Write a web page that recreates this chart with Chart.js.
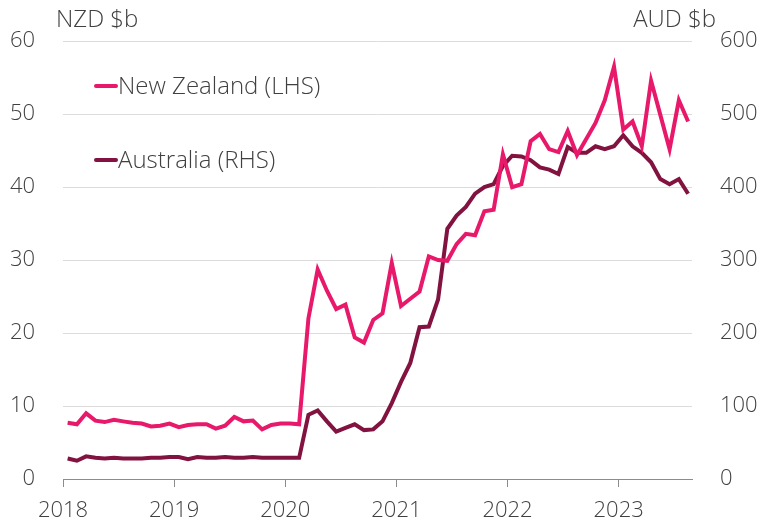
<!DOCTYPE html>
<html>
<head>
<meta charset="utf-8">
<script src="https://cdn.jsdelivr.net/npm/chart.js@4.4.0/dist/chart.umd.min.js"></script>
<style>
  html, body { margin: 0; padding: 0; background: #fff; }
  #wrap { width: 762px; height: 525px; }
</style>
</head>
<body>
<div id="wrap"><canvas id="myChart" width="762" height="525"></canvas></div>
<script>
// monthly, Jan 2018 - Aug 2023
let meses = [];
for (let a = 2018; a <= 2023; a++) {
  for (let m = 1; m <= 12; m++) {
    if (a == 2023 && m > 8) break;
    meses.push(a + "-" + (m < 10 ? "0" + m : m));
  }
}

// NZD $b (LHS)
let nzValues = [
  7.7, 7.5, 9.0, 8.0, 7.8, 8.1, 7.9, 7.7, 7.6, 7.2, 7.3, 7.6,
  7.1, 7.4, 7.5, 7.5, 6.9, 7.3, 8.5, 7.9, 8.0, 6.8, 7.4, 7.6,
  7.6, 7.5, 22.0, 28.7, 25.8, 23.3, 23.9, 19.4, 18.7, 21.8, 22.7, 29.6,
  23.7, 24.7, 25.7, 30.5, 30.0, 29.9, 32.2, 33.6, 33.4, 36.7, 36.9, 44.5,
  40.0, 40.4, 46.3, 47.3, 45.2, 44.8, 47.7, 44.4, 46.6, 48.8, 51.9, 56.5,
  47.9, 49.0, 45.6, 54.6, 49.9, 45.2, 51.9, 49.0
];

// AUD $b (RHS)
let auValues = [
  28, 25, 31, 29, 28, 29, 28, 28, 28, 29, 29, 30,
  30, 27, 30, 29, 29, 30, 29, 29, 30, 29, 29, 29,
  29, 29, 88, 94, 79, 65, 70, 75, 67, 68, 79, 104,
  133, 159, 208, 209, 246, 343, 361, 373, 391, 400, 404, 429,
  443, 442, 437, 427, 424, 418, 455, 447, 447, 456, 452, 456,
  471, 456, 447, 434, 411, 404, 411, 391
];

let leftTicks = [0, 10, 20, 30, 40, 50, 60];
let rightTicks = [0, 100, 200, 300, 400, 500, 600];
let anos = [2018, 2019, 2020, 2021, 2022, 2023];

let corNZ = "#e8186a";
let corAU = "#82123f";
let corTexto = "#404040";
let fonte = "'Open Sans', 'DejaVu Sans', sans-serif";

// month label -> position on the year axis (middle of month)
function posMes(s) {
  let a = parseInt(s.slice(0, 4));
  let m = parseInt(s.slice(5, 7));
  return a + (m - 0.5) / 12;
}

let nzData = meses.map((s, i) => ({ x: posMes(s), y: nzValues[i] }));
let auData = meses.map((s, i) => ({ x: posMes(s), y: auValues[i] }));

// legend and axis titles drawn by hand
const extras = {
  id: "extras",
  afterDraw(chart) {
    let ctx = chart.ctx;
    ctx.save();
    ctx.font = "300 24px " + fonte;
    ctx.fillStyle = corTexto;
    ctx.textBaseline = "middle";
    ctx.textAlign = "left";
    ctx.fillText("NZD $b", 56, 20);
    ctx.textAlign = "right";
    ctx.fillText("AUD $b", 716, 20);

    let itens = [[86, 0], [160, 1]];
    itens.forEach(([y, d]) => {
      let ds = chart.data.datasets[d];
      ctx.strokeStyle = ds.borderColor;
      ctx.lineWidth = 4;
      ctx.lineCap = "round";
      ctx.beginPath();
      ctx.moveTo(96, y);
      ctx.lineTo(116, y);
      ctx.stroke();
      ctx.textAlign = "left";
      ctx.fillText(ds.label, 118, y + 1);
    });
    ctx.restore();
  }
};

let chart = new Chart("myChart", {
  type: "line",
  data: {
    datasets: [{
      label: "New Zealand (LHS)",
      data: nzData,
      borderColor: corNZ,
      borderWidth: 4,
      pointRadius: 0,
      tension: 0,
      yAxisID: "y"
    },
    {
      label: "Australia (RHS)",
      data: auData,
      borderColor: corAU,
      borderWidth: 4,
      pointRadius: 0,
      tension: 0,
      yAxisID: "y2"
    }]
  },
  options: {
    responsive: false,
    animation: false,
    layout: { padding: { top: 38, left: 0, right: 0, bottom: 0 } },
    plugins: {
      legend: { display: false },
      tooltip: { enabled: false }
    },
    scales: {
      x: {
        type: "linear",
        min: 2018,
        max: 2023.66,
        afterBuildTicks: s => { s.ticks = anos.map(v => ({ value: v })); },
        afterFit: s => { s.height = 46; },
        ticks: {
          color: corTexto,
          font: { family: fonte, size: 22, weight: "300" },
          padding: 11,
          maxRotation: 0,
          callback: v => String(v)
        },
        grid: {
          drawOnChartArea: false,
          drawTicks: true,
          tickLength: 8,
          tickColor: "#8c8c8c"
        },
        border: { display: true, color: "#8c8c8c", width: 1 }
      },
      y: {
        position: "left",
        min: 0,
        max: 60,
        afterBuildTicks: s => { s.ticks = leftTicks.map(v => ({ value: v })); },
        afterFit: s => { s.width = 63; },
        ticks: {
          color: corTexto,
          font: { family: fonte, size: 22, weight: "300" },
          padding: 28
        },
        grid: { color: "#dcdcdc", lineWidth: 1, drawTicks: false },
        border: { display: false }
      },
      y2: {
        position: "right",
        min: 0,
        max: 600,
        afterBuildTicks: s => { s.ticks = rightTicks.map(v => ({ value: v })); },
        afterFit: s => { s.width = 70; },
        ticks: {
          color: corTexto,
          font: { family: fonte, size: 22, weight: "300" },
          padding: 28
        },
        grid: { drawOnChartArea: false, drawTicks: false },
        border: { display: false }
      }
    }
  },
  plugins: [extras]
});
</script>
</body>
</html>
